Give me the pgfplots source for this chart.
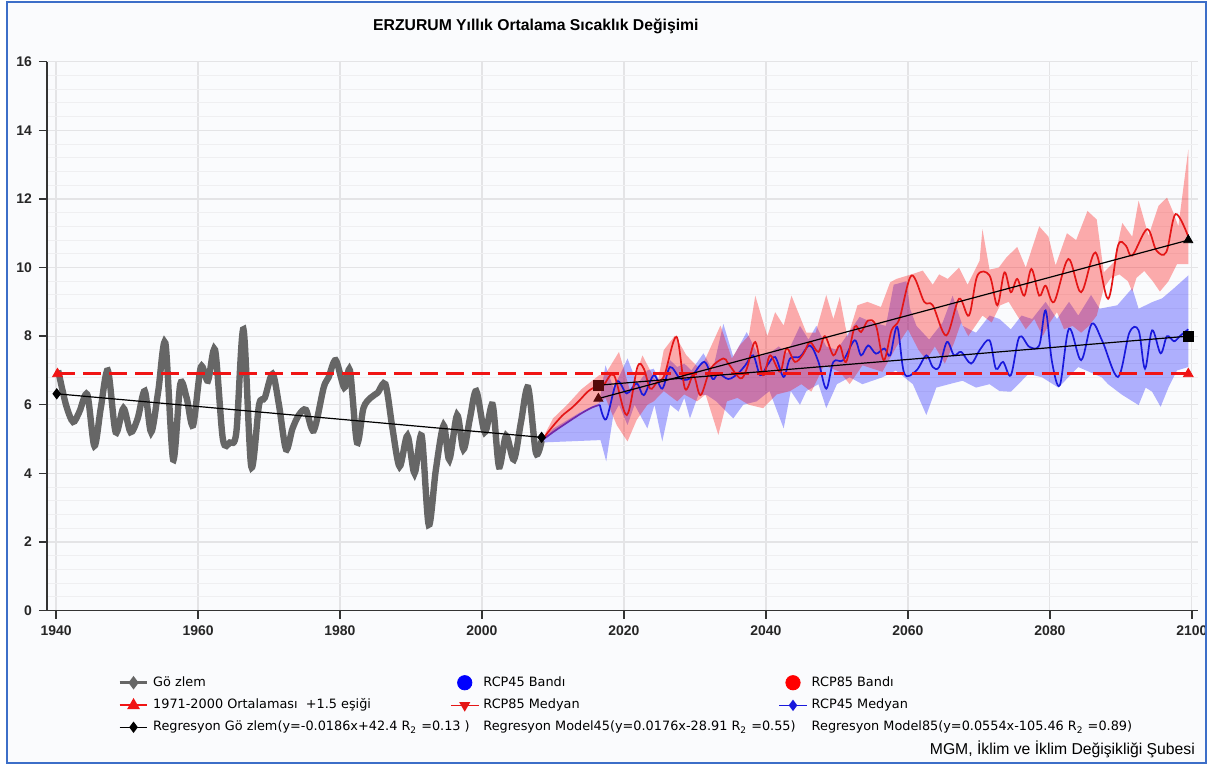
\documentclass[border=0pt]{standalone}
\usepackage{fontspec}
\setmainfont{DejaVu Sans}
\newfontfamily\lib{Liberation Sans}
\usepackage{pgfplots}
\pgfplotsset{compat=1.18}
\definecolor{obsgray}{RGB}{102,102,102}
\definecolor{thr}{RGB}{240,20,20}
\definecolor{rmed}{RGB}{228,22,22}
\definecolor{bmed}{RGB}{25,25,220}
\definecolor{pmed}{RGB}{112,40,170}
\definecolor{framec}{RGB}{60,110,200}
\definecolor{bgc}{RGB}{250,251,253}
\definecolor{maroonc}{RGB}{85,10,10}
\definecolor{gridc}{RGB}{228,228,230}
\definecolor{mgridc}{RGB}{239,239,241}
\pgfplotsset{
  lineimg/.style={legend image code/.code={\draw[mark repeat=2,mark phase=2,##1] plot coordinates {(0pt,0pt) (7pt,0pt) (14pt,0pt)};}},
  dotimg/.style={legend image code/.code={\draw[##1] plot coordinates {(7pt,0pt)};}},
  noimg/.style={legend image code/.code={\path (0pt,0pt) (14pt,0pt);}},
}
\begin{document}
\begin{tikzpicture}
\fill[bgc] (-20pt,-76.5pt) rectangle (582pt,305.5pt);
\begin{axis}[
  scale only axis, width=578pt, height=275.5pt,
  at={(0pt,0pt)}, anchor=south west,
  xmin=1938.7, xmax=2100.9, ymin=0, ymax=16,
  axis lines*=left,
  axis line style={black!80, line width=0.9pt},
  xtick={1940,1960,...,2100}, ytick={0,2,...,16},
  minor y tick num=4,
  grid=both,
  major grid style={gridc, line width=0.6pt},
  minor grid style={mgridc, line width=0.5pt},
  tick align=outside,
  major tick length=4pt, minor tick length=0pt,
  tick style={black!80, line width=0.7pt},
  ticklabel style={font=\lib\bfseries\fontsize{7}{8}\selectfont, text=black!85},
  /pgf/number format/assume math mode=true,
  /pgf/number format/1000 sep={},
  legend columns=3,
  legend cell align=left,
  legend style={at={(0.0614,-0.1177)}, anchor=north west, draw=none, fill=none,
    font=\fontsize{6.45}{7.5}\selectfont, inner sep=0pt, row sep=4.5pt,
    /tikz/every odd column/.append style={column sep=2pt},
    /tikz/every even column/.append style={column sep=0pt},
    nodes={inner sep=0pt, text height=5pt, text depth=1.5pt}},
]
% ---------- RCP45 band ----------
\addplot[fill=blue, fill opacity=0.3, draw=none, forget plot] coordinates {
(2008.4,4.95) (2010,5.3) (2012,5.55) (2014,5.8) (2016.5,6.05) (2017.4,7.15) (2018.5,6.5) (2019.5,6.9) (2020.5,7.35) (2021.9,6.6) (2023.3,7.0) (2024.2,7.05) (2025.2,6.6) (2026.5,7.3) (2027.5,7.1) (2028.5,7.2) (2029.5,7.0) (2031.2,7.5) (2032.5,7.0) (2034,8.36) (2035.4,7.4) (2037.3,8.12) (2039,7.4) (2040.5,7.5) (2041.8,7.7) (2043,7.5) (2044.8,8.3) (2046,7.9) (2047.1,8.3) (2048.5,7.7) (2050,7.6) (2051,7.9) (2053.2,8.56) (2055,8.4) (2056.9,8.3) (2058,9.5) (2059.8,9.6) (2060.3,8.8) (2061.2,8.3) (2063,7.9) (2064.9,8.4) (2066.3,9.18) (2067.7,8.3) (2069.6,8.1) (2071.5,8.6) (2072.9,8.5) (2074.5,8.2) (2076,8.6) (2077.5,8.5) (2079.4,9.0) (2081,8.5) (2082.7,9.0) (2084,8.6) (2085.8,9.2) (2087,8.8) (2089.5,8.9) (2091.6,9.4) (2092.5,8.8) (2094.5,9.0) (2095.8,9.1) (2097.5,9.4) (2099.5,9.77)
(2099.5,7.1) (2097.9,7.0) (2096.7,6.5) (2095.6,5.94) (2094.4,6.38) (2093.5,6.5) (2092.5,5.99) (2090.1,6.3) (2088.2,6.6) (2087.3,6.8) (2084,7.1) (2081.2,6.5) (2078.9,6.8) (2077,6.9) (2074.5,6.38) (2072.9,6.4) (2071.5,6.6) (2069.6,6.5) (2067.7,6.7) (2065.8,6.6) (2064,6.5) (2062.6,5.7) (2060.7,6.6) (2058.3,7.0) (2056.4,6.8) (2053.6,6.6) (2051.8,6.8) (2050,6.6) (2048.5,5.9) (2047.4,6.6) (2045.7,6.4) (2044.8,6.0) (2043.5,6.4) (2042.5,5.31) (2040.5,6.4) (2038.7,6.1) (2036.8,6.0) (2035.4,5.6) (2033,6.1) (2031.7,6.28) (2030.5,6.3) (2029.3,5.6) (2028.5,6.2) (2027.7,5.8) (2026.5,6.0) (2025.4,4.93) (2024.3,6.0) (2023.3,5.31) (2021.5,6.0) (2020.5,5.41) (2019.3,6.0) (2018.5,5.7) (2017.5,4.35) (2016.7,4.97) (2008.4,4.9)} -- cycle;
% ---------- RCP85 band ----------
\addplot[fill=red, fill opacity=0.32, draw=none, forget plot] coordinates {
(2008.4,4.95) (2010,5.6) (2012,6.0) (2014,6.45) (2016.5,6.86) (2017.4,6.9) (2019.3,7.54) (2020.9,6.38) (2022.6,7.44) (2024.7,6.6) (2025.6,7.59) (2027.2,8.02) (2028.8,7.44) (2030.6,7.06) (2031.5,7.35) (2033.6,8.31) (2035.2,7.35) (2036.3,7.73) (2037.6,8.02) (2038.5,9.18) (2040.2,8.0) (2041.3,8.7) (2042.5,8.31) (2043.6,9.18) (2045.7,8.1) (2047,8.1) (2048.5,9.2) (2049.5,8.5) (2050.4,9.14) (2051.5,7.95) (2052.9,8.9) (2054.3,9.0) (2056.2,8.85) (2057.5,9.57) (2058.4,9.67) (2060.5,9.8) (2062.1,9.91) (2063.5,9.5) (2064.4,9.8) (2065.6,9.67) (2067.2,10.0) (2068.4,9.5) (2070.1,10.2) (2070.5,11.12) (2071.5,9.94) (2072.8,10.0) (2073.9,10.3) (2075.4,10.6) (2076.6,10.0) (2078.5,11.2) (2079.8,10.9) (2080.8,10.06) (2082.4,11.0) (2083.7,10.8) (2085.3,11.65) (2086.6,11.4) (2087.6,9.86) (2089,10.15) (2090.2,11.3) (2091.6,10.9) (2092.5,11.95) (2093.9,10.93) (2095.3,11.8) (2096.5,12.04) (2097.4,11.6) (2098.1,11.2) (2099.5,13.44)
(2099.5,10.1) (2097.9,10.1) (2096.7,9.6) (2095.5,9.3) (2094.5,9.6) (2093.3,9.9) (2092.2,9.7) (2091.6,9.3) (2091,9.6) (2089.8,9.8) (2088.6,9.7) (2087.6,9.4) (2086.6,8.6) (2085.5,8.3) (2084.4,8.1) (2083.2,8.3) (2082,8.2) (2081,8.7) (2080,8.4) (2079,8.0) (2077.8,8.5) (2076.6,8.2) (2075.4,8.6) (2074.2,9.0) (2073,8.9) (2071.8,8.4) (2070.5,8.6) (2069.5,8.3) (2068.5,8.0) (2067.5,8.4) (2066.5,7.8) (2065.2,7.2) (2063.8,7.7) (2062.6,7.3) (2061.5,7.6) (2060,8.2) (2058.4,7.7) (2056.4,6.96) (2053.6,7.15) (2051.8,6.6) (2050.4,6.96) (2048.2,7.15) (2046.4,6.38) (2045,6.6) (2043.4,6.4) (2041.5,6.3) (2039.6,5.9) (2037.6,6.0) (2036,6.2) (2034.5,6.1) (2033.3,5.12) (2031.5,6.3) (2030.3,6.1) (2028.5,6.3) (2027.5,6.1) (2025.6,6.4) (2024.2,6.1) (2023.3,6.0) (2021.8,5.56) (2020.5,4.93) (2019,5.4) (2017.4,6.2) (2016.5,6.05) (2014,5.8) (2012,5.5) (2010,5.2) (2008.4,4.93)} -- cycle;
% ---------- observations ----------
\addplot[obsgray, line width=3.2pt, smooth, tension=0.5, forget plot] coordinates {
(1940.3,7.0) (1941.4,6.0) (1942.4,5.5) (1943.3,5.8) (1944.4,6.3) (1945.4,4.8) (1946.3,5.9) (1947.3,7.0) (1948.4,5.2) (1949.5,5.9) (1950.5,5.2) (1951.5,5.6) (1952.5,6.4) (1953.4,5.2) (1954.4,6.4) (1955.4,7.8) (1956.5,4.4) (1957.5,6.6) (1958.4,6.2) (1959.3,5.4) (1960.4,7.1) (1961.4,6.7) (1962.4,7.6) (1963.5,5.0) (1964.5,4.9) (1965.4,5.2) (1966.4,8.2) (1967.5,4.2) (1968.6,6.0) (1969.4,6.2) (1970.5,6.9) (1971.4,6.0) (1972.4,4.7) (1973.3,5.3) (1974.2,5.7) (1975.2,5.85) (1976.3,5.25) (1977.7,6.5) (1978.4,6.8) (1979.4,7.3) (1980.6,6.5) (1981.4,7.0) (1982.4,4.9) (1983.3,5.9) (1984.3,6.2) (1985.3,6.35) (1986.4,6.6) (1987.4,5.3) (1988.4,4.2) (1989.5,5.1) (1990.5,4.0) (1991.5,5.1) (1992.5,2.5) (1993.5,4.1) (1994.6,5.4) (1995.4,4.4) (1996.5,5.7) (1997.4,4.7) (1998.3,5.6) (1999.2,6.4) (2000.4,5.2) (2001.5,6.0) (2002.4,4.2) (2003.4,5.1) (2004.5,4.4) (2005.5,5.5) (2006.5,6.5) (2007.6,4.6) (2008.4,4.95)};
% ---------- medians ----------
\addplot[pmed, line width=0.85pt, smooth, forget plot] coordinates {
(2008.4,4.95) (2010,5.2) (2012,5.48) (2014,5.75) (2015.5,5.92) (2016.6,6.0)};
\addplot[bmed, line width=0.85pt, smooth, tension=0.55, forget plot] coordinates {
(2016.6,6.0) (2017.5,5.58) (2019,6.67) (2020.4,6.33) (2021.8,6.62) (2022.8,6.28) (2024.2,6.86) (2025.4,6.47) (2026.5,7.1) (2027.9,6.77) (2029.3,6.77) (2031.3,7.25) (2032.5,6.75) (2033.3,6.91) (2034.7,6.75) (2036,6.9) (2037.1,7.15) (2038.2,7.44) (2039.2,6.86) (2040.2,7.15) (2041.3,7.39) (2042.5,6.81) (2043.4,7.35) (2044.8,7.4) (2046.2,7.73) (2047.4,7.25) (2048.5,6.47) (2049.5,7.25) (2050.9,7.3) (2052.5,7.88) (2053.4,7.44) (2054.4,7.73) (2055.5,7.49) (2056.7,7.64) (2057.5,7.44) (2058.5,8.27) (2059.5,6.91) (2061.2,7.0) (2062.6,7.44) (2063.5,7.1) (2064.4,7.1) (2065.5,7.83) (2066.5,7.44) (2067.5,7.54) (2068.9,7.2) (2070.1,7.59) (2071.5,7.88) (2072.4,7.05) (2073.4,7.25) (2074.5,6.86) (2075.7,7.98) (2077.1,7.69) (2078.5,7.73) (2079.4,8.75) (2080.3,7.25) (2081.4,6.57) (2082.7,8.22) (2084.4,7.3) (2085.9,8.36) (2087.4,7.85) (2089.6,6.81) (2091.2,8.1) (2092.5,8.17) (2093.4,7.05) (2094.4,8.17) (2095.6,7.5) (2096.5,8.0) (2097.5,7.85) (2098.3,8.0) (2099.5,8.2)};
\addplot[rmed, line width=0.85pt, smooth, tension=0.55, forget plot] coordinates {
(2008.4,4.95) (2009.5,5.25) (2010.5,5.5) (2011.5,5.72) (2012.6,5.9) (2013.7,6.12) (2015,6.4) (2016.3,6.55) (2017.2,6.6) (2018.6,6.86) (2020.4,5.7) (2021.9,7.1) (2022.8,7.05) (2023.7,6.47) (2024.7,6.67) (2025.7,6.86) (2027.4,7.98) (2028.6,6.47) (2029.8,6.86) (2030.8,6.28) (2032.2,7.05) (2034,7.35) (2034.7,7.2) (2036.4,6.77) (2037.3,7.05) (2038.5,7.83) (2039.6,6.86) (2040.6,7.44) (2042,6.96) (2042.9,7.64) (2044.1,7.25) (2045.3,7.49) (2046.2,7.83) (2047.4,7.54) (2048.3,8.0) (2049.5,7.44) (2050.4,7.73) (2051.3,7.25) (2052.5,8.27) (2053.4,8.12) (2054.4,8.46) (2055.5,8.31) (2056.6,7.3) (2057.7,8.17) (2058.8,8.5) (2060.5,9.77) (2062.3,9.0) (2063.5,8.9) (2065.4,8.02) (2067.2,9.09) (2068.6,8.6) (2069.8,9.77) (2071.5,9.77) (2072.6,8.9) (2073.6,9.86) (2074.5,9.28) (2075.4,9.67) (2076.4,9.18) (2077.4,9.96) (2078.5,9.18) (2079.4,9.47) (2080.6,9.0) (2082.6,10.25) (2084.4,9.28) (2086.4,10.44) (2088.2,9.09) (2089.6,10.64) (2090.7,10.64) (2091.6,10.35) (2093.7,11.12) (2095,10.5) (2096.4,10.45) (2097.7,11.56) (2099.5,10.9)};
% ---------- threshold ----------
\addplot[thr, line width=1.5pt, dash pattern=on 9pt off 4pt, forget plot] coordinates {(1940.2,6.9) (2099.5,6.9)};
\addplot[thr, only marks, mark=triangle*, mark size=2.8pt, forget plot] coordinates {(1940.2,6.9) (2099.5,6.9)};
% ---------- regressions ----------
\addplot[black, line width=0.6pt, mark=diamond*, mark size=2.4pt, forget plot] coordinates {(1940.1,6.32) (2008.4,5.05)};
\addplot[black, line width=0.6pt, forget plot] coordinates {(2016.4,6.57) (2099.5,8.0)};
\addplot[black, line width=0.6pt, forget plot] coordinates {(2016.4,6.18) (2099.5,10.8)};
\addplot[maroonc, only marks, mark=square*, mark size=2.4pt, forget plot] coordinates {(2016.4,6.57)};
\addplot[maroonc, only marks, mark=triangle*, mark size=2.6pt, forget plot] coordinates {(2016.4,6.18)};
\addplot[black, only marks, mark=square*, mark size=2.4pt, forget plot] coordinates {(2099.5,8.0)};
\addplot[black, only marks, mark=triangle*, mark size=2.6pt, forget plot] coordinates {(2099.5,10.8)};
% ---------- legend ----------
\addlegendimage{obsgray, line width=1.7pt, mark=diamond*, mark size=2pt, lineimg}
\addlegendentry{\makebox[149pt][l]{Gö zlem}}
\addlegendimage{blue, only marks, mark=*, mark size=3.6pt, dotimg}
\addlegendentry{\makebox[148pt][l]{RCP45 Bandı}}
\addlegendimage{red, only marks, mark=*, mark size=3.6pt, dotimg}
\addlegendentry{RCP85 Bandı}
\addlegendimage{thr, line width=1.1pt, mark=triangle*, mark size=2.6pt, lineimg}
\addlegendentry{\makebox[149pt][l]{1971-2000 Ortalaması~ +1.5 eşiği}}
\addlegendimage{rmed, line width=0.8pt, mark=triangle*, mark size=2.4pt, mark options={rotate=180}, lineimg}
\addlegendentry{\makebox[148pt][l]{RCP85 Medyan}}
\addlegendimage{bmed, line width=0.8pt, mark=diamond*, mark size=2.2pt, lineimg}
\addlegendentry{RCP45 Medyan}
\addlegendimage{black, line width=0.7pt, mark=diamond*, mark size=2.3pt, lineimg}
\addlegendentry{\makebox[149pt][l]{Regresyon Gö zlem(y=-0.0186x+42.4 R\textsubscript{2} =0.13 )}}
\addlegendimage{noimg}
\addlegendentry{\makebox[148pt][l]{Regresyon Model45(y=0.0176x-28.91 R\textsubscript{2} =0.55)}}
\addlegendimage{noimg}
\addlegendentry{Regresyon Model85(y=0.0554x-105.46 R\textsubscript{2} =0.89)}
\end{axis}
\node[font=\lib\bfseries\fontsize{7.9}{9}\selectfont] at (245.5pt,293pt) {ERZURUM Yıllık Ortalama Sıcaklık Değişimi};
\node[font=\lib\fontsize{7.9}{9}\selectfont, anchor=east, inner sep=0pt] at (576.5pt,-69.5pt) {MGM, İklim ve İklim Değişikliği Şubesi};
\draw[framec, line width=1.2pt] (-20pt,-76.5pt) rectangle (582pt,305.5pt);
\path[use as bounding box] (-23.5pt,-78pt) rectangle (583.5pt,306.5pt);
\end{tikzpicture}
\end{document}
